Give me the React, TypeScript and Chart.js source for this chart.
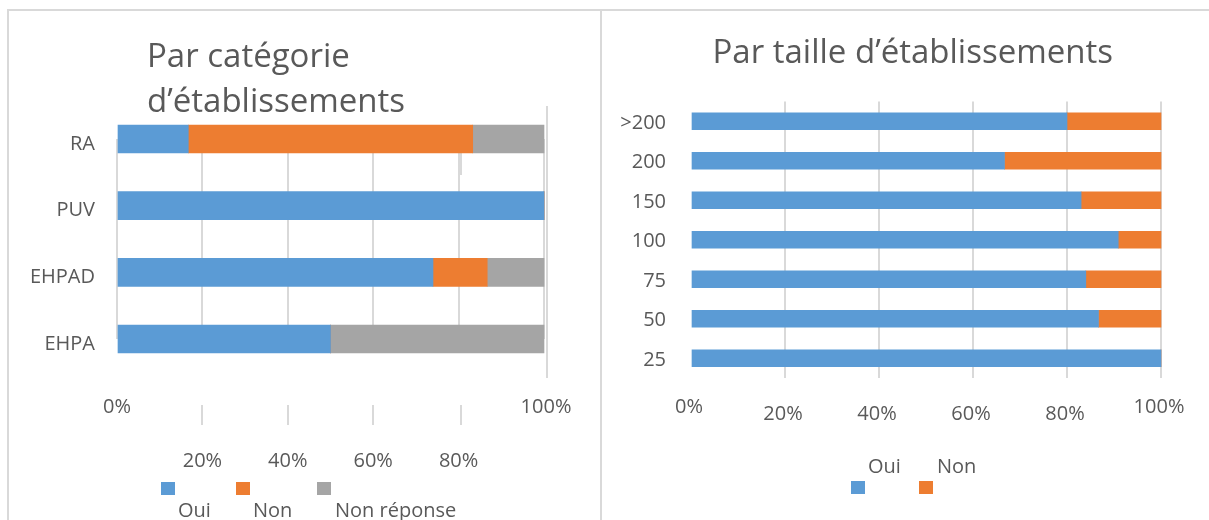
import React, { useEffect, useRef } from 'react';
import { Chart, registerables } from 'chart.js';

Chart.register(...registerables);

// ---------- data ----------
const categoryLabels = ['RA', 'PUV', 'EHPAD', 'EHPA'];
const categoryOui = [16.7, 100, 74, 50];
const categoryNon = [66.6, 0, 12.7, 0];
const categoryNonReponse = [16.7, 0, 13.3, 50];

const sizeLabels = ['>200', '200', '150', '100', '75', '50', '25'];
const sizeOui = [80, 66.7, 83, 90.9, 84, 86.7, 100];
const sizeNon = [20, 33.3, 17, 9.1, 16, 13.3, 0];

const seriesNames = ['Oui', 'Non', 'Non réponse'];
const leftTitleLines = ['Par catégorie', 'd’établissements'];
const rightTitle = 'Par taille d’établissements';
const percentMin = 0;
const percentMax = 100;
const percentStep = 20;

// ---------- styles ----------
const FONT = '"Open Sans", "DejaVu Sans", sans-serif';
const TEXT = '#595959';
const GRID = '#d9d9d9';
const BLUE = '#5B9BD5';
const ORANGE = '#ED7D31';
const GREY = '#A5A5A5';

const fmtPct = (v: number) => `${v}%`;

const leftDecor = {
  id: 'leftDecor',
  beforeDraw(chart: any) {
    const ctx = chart.ctx;
    ctx.save();
    ctx.fillStyle = GRID;
    ctx.fillRect(7, 9, 595, 2);
    ctx.fillRect(7, 9, 2, 511);
    ctx.fillRect(600, 9, 2, 511);
    ctx.restore();
  },
  beforeDatasetsDraw(chart: any) {
    const ctx = chart.ctx;
    const x = chart.scales.x;
    ctx.save();
    ctx.fillStyle = GRID;
    const x100 = Math.round(x.getPixelForValue(100));
    ctx.fillRect(x100 + 2, 106, 2, 272);
    const x80 = Math.round(x.getPixelForValue(80));
    ctx.fillRect(x80 + 1, 152, 2, 23);
    ctx.restore();
  },
  afterDraw(chart: any) {
    const ctx = chart.ctx;
    const xs = chart.scales.x;
    ctx.save();
    // title
    ctx.fillStyle = TEXT;
    ctx.font = `33px ${FONT}`;
    ctx.textAlign = 'left';
    ctx.textBaseline = 'alphabetic';
    ctx.fillText(leftTitleLines[0], 147, 67);
    ctx.fillText(leftTitleLines[1], 147, 112);
    // staggered tick labels + stubs
    ctx.font = `20px ${FONT}`;
    ctx.textAlign = 'center';
    xs.ticks.forEach((t: any) => {
      const px = xs.getPixelForValue(t.value);
      const outer = t.value === percentMin || t.value === percentMax;
      ctx.fillStyle = TEXT;
      ctx.fillText(fmtPct(t.value), px + (t.value === percentMax ? 2 : 0), outer ? 413 : 467);
      if (!outer) {
        ctx.fillStyle = GRID;
        ctx.fillRect(Math.round(px) - 1 + (t.value === 80 ? 2 : 0), 405, 2, 20);
      }
    });
    // legend
    const sqX = [161, 236, 317];
    const lbX = [178, 253, 335];
    chart.data.datasets.forEach((ds: any, i: number) => {
      ctx.fillStyle = ds.backgroundColor;
      ctx.fillRect(sqX[i], 482, 14, 13);
      ctx.fillStyle = TEXT;
      ctx.textAlign = 'left';
      ctx.fillText(ds.label, lbX[i], 517);
    });
    ctx.restore();
  },
};

const rightDecor = {
  id: 'rightDecor',
  beforeDraw(chart: any) {
    const ctx = chart.ctx;
    ctx.save();
    ctx.fillStyle = GRID;
    ctx.fillRect(0, 9, chart.width, 2);
    ctx.restore();
  },
  afterDraw(chart: any) {
    const ctx = chart.ctx;
    const xs = chart.scales.x;
    ctx.save();
    ctx.fillStyle = TEXT;
    ctx.font = `33px ${FONT}`;
    ctx.textAlign = 'left';
    ctx.textBaseline = 'alphabetic';
    ctx.fillText(rightTitle, 110.5, 63);
    ctx.font = `20px ${FONT}`;
    ctx.textAlign = 'center';
    xs.ticks.forEach((t: any) => {
      const px = xs.getPixelForValue(t.value);
      const outer = t.value === percentMin || t.value === percentMax;
      ctx.fillText(fmtPct(t.value), px - 2, outer ? 413 : 420);
    });
    const sqX = [249, 317];
    const lbX = [266, 335];
    chart.data.datasets.forEach((ds: any, i: number) => {
      ctx.fillStyle = ds.backgroundColor;
      ctx.fillRect(sqX[i], 481, 14, 13);
      ctx.fillStyle = TEXT;
      ctx.textAlign = 'left';
      ctx.fillText(ds.label, lbX[i], 473);
    });
    ctx.restore();
  },
};

function baseBar(label: string, data: number[], color: string, thickness: number) {
  return {
    label,
    data,
    backgroundColor: color,
    borderWidth: 0,
    barThickness: thickness,
    clip: false as any,
  };
}

function makeConfig(
  labels: string[],
  datasets: any[],
  padding: any,
  yWidth: number,
  yPad: number,
  yLabelOffset: number,
  yOffset: boolean,
  showZeroLine: boolean,
  plugin: any
): any {
  return {
    type: 'bar',
    data: { labels, datasets },
    options: {
      indexAxis: 'y',
      responsive: false,
      maintainAspectRatio: false,
      animation: false,
      devicePixelRatio: 1,
      events: [],
      layout: { padding },
      plugins: {
        legend: { display: false },
        title: { display: false },
        tooltip: { enabled: false },
      },
      scales: {
        x: {
          type: 'linear',
          stacked: true,
          min: percentMin,
          max: percentMax,
          ticks: { display: false, stepSize: percentStep },
          grid: {
            drawTicks: false,
            lineWidth: 2,
            color: (c: any) =>
              !showZeroLine && c.tick && c.tick.value === 0 ? 'rgba(0,0,0,0)' : GRID,
          },
          border: { display: false },
          afterFit: (s: any) => {
            s.height = 0;
          },
        },
        y: {
          stacked: true,
          offset: yOffset,
          grid: { display: false, drawTicks: false },
          border: { display: false },
          ticks: {
            color: TEXT,
            font: { family: FONT, size: 20 },
            padding: yPad,
            labelOffset: yLabelOffset,
            autoSkip: false,
          },
          afterFit: (s: any) => {
            s.width = yWidth;
          },
        },
      },
    },
    plugins: [plugin],
  };
}

export default function App() {
  const leftRef = useRef<HTMLCanvasElement>(null);
  const rightRef = useRef<HTMLCanvasElement>(null);

  useEffect(() => {
    const left = new Chart(
      leftRef.current as HTMLCanvasElement,
      makeConfig(
        categoryLabels,
        [
          baseBar(seriesNames[0], categoryOui, BLUE, 28),
          baseBar(seriesNames[1], categoryNon, ORANGE, 28),
          baseBar(seriesNames[2], categoryNonReponse, GREY, 28),
        ],
        { left: 17, right: 58, top: 139, bottom: 181 },
        100,
        22,
        5,
        false,
        true,
        leftDecor
      )
    );
    const right = new Chart(
      rightRef.current as HTMLCanvasElement,
      makeConfig(
        sizeLabels,
        [
          baseBar(seriesNames[0], sizeOui, BLUE, 17),
          baseBar(seriesNames[1], sizeNon, ORANGE, 17),
        ],
        { left: 19, right: 48, top: 101.5, bottom: 142 },
        70,
        25,
        2,
        true,
        false,
        rightDecor
      )
    );
    return () => {
      left.destroy();
      right.destroy();
    };
  }, []);

  return (
    <div
      style={{
        position: 'absolute',
        left: 0,
        top: 0,
        width: 1209,
        height: 520,
        overflow: 'hidden',
        background: '#ffffff',
      }}
    >
      <canvas
        ref={leftRef}
        width={602}
        height={520}
        style={{ position: 'absolute', left: 0, top: 0, width: 602, height: 520 }}
      />
      <canvas
        ref={rightRef}
        width={607}
        height={520}
        style={{ position: 'absolute', left: 602, top: 0, width: 607, height: 520 }}
      />
    </div>
  );
}
